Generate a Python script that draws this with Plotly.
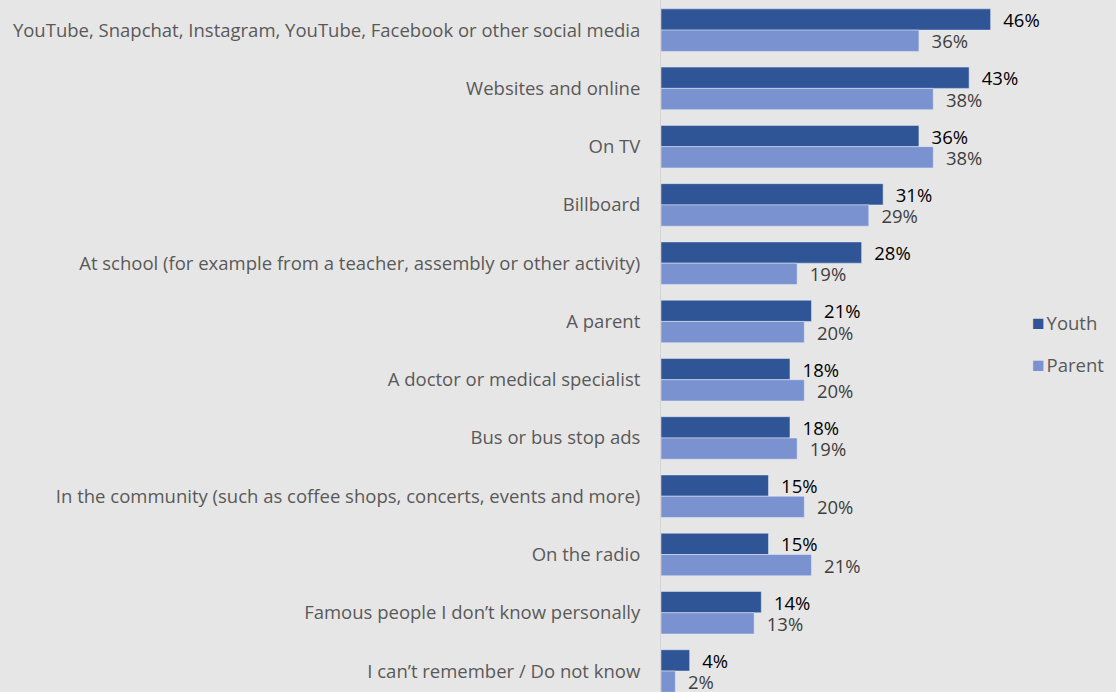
import plotly.graph_objects as go

categories = [
    "YouTube, Snapchat, Instagram, YouTube, Facebook or other social media",
    "Websites and online",
    "On TV",
    "Billboard",
    "At school (for example from a teacher, assembly or other activity)",
    "A parent",
    "A doctor or medical specialist",
    "Bus or bus stop ads",
    "In the community (such as coffee shops, concerts, events and more)",
    "On the radio",
    "Famous people I don’t know personally",
    "I can’t remember / Do not know",
]
youth = [46, 43, 36, 31, 28, 21, 18, 18, 15, 15, 14, 4]
parent = [36, 38, 38, 29, 19, 20, 20, 19, 20, 21, 13, 2]
series_names = ["Youth", "Parent"]
series_colors = ["#2f5597", "#7a92d0"]

BG = "#e7e6e6"
FONT = "Open Sans"
FS = 18.5

fig = go.Figure()
for name, vals, color, txtcolor in zip(series_names, [youth, parent], series_colors,
                                       ["#000000", "#404040"]):
    fig.add_trace(go.Bar(
        y=categories, x=vals, orientation="h", name=name,
        marker=dict(color=color),
        text=[f"\u00a0\u00a0{v}%" for v in vals],
        textposition="outside", cliponaxis=False, constraintext="none",
        textfont=dict(family=FONT, size=FS, color=txtcolor),
        showlegend=False,
    ))

# legend drawn as text so the swatch sits close to its label
for i, (name, color) in enumerate(zip(series_names, series_colors)):
    fig.add_annotation(
        xref="paper", yref="paper", x=(1030 - 661) / 455, y=1 - (322 + 42 * i) / 692,
        xanchor="left", yanchor="middle", showarrow=False,
        text=f"<span style='color:{color};font-size:21px'>■</span>\u200a{name}",
        font=dict(family=FONT, size=FS, color="#595959"),
    )

fig.update_layout(
    width=1116, height=692,
    paper_bgcolor=BG, plot_bgcolor=BG,
    margin=dict(l=661, r=0, t=0, b=0),
    barmode="group", bargap=0.27, bargroupgap=0,
    font=dict(family=FONT, size=FS, color="#595959"),
    showlegend=False,
)
fig.update_xaxes(range=[0, 63.5], visible=False, showgrid=False, zeroline=False)
fig.update_yaxes(
    range=[11.36, -0.517], showline=True, linecolor="#d4d4d4", linewidth=1,
    showgrid=False, ticks="", ticklabelstandoff=16, automargin=False,
)

fig.write_html("out.html", config={"displayModeBar": False},
               post_script="document.body.style.margin='0';")
